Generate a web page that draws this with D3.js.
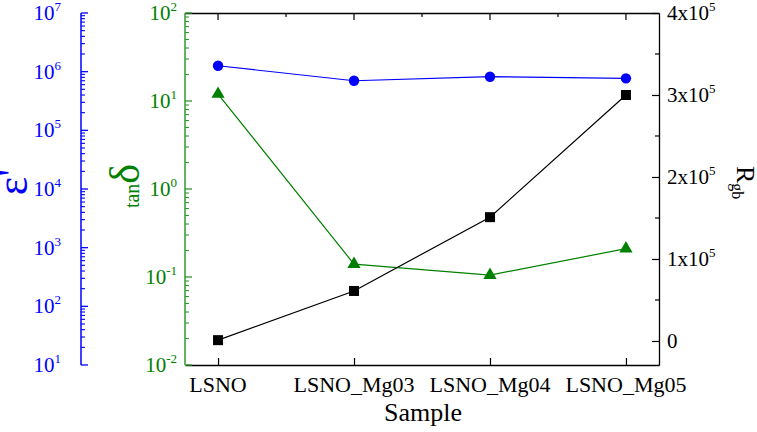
<!DOCTYPE html>
<html><head><meta charset="utf-8">
<script src="https://cdn.jsdelivr.net/npm/d3@7"></script>
<style>body{margin:0;background:#fff}svg{display:block}</style>
</head><body>
<svg id="c" width="757" height="432"></svg>
<script>
const categories = ["LSNO", "LSNO_Mg03", "LSNO_Mg04", "LSNO_Mg05"];
const epsilonValues = [1.26e6, 7.0e5, 8.2e5, 7.7e5];
const tanDeltaValues = [12, 0.14, 0.105, 0.21];
const rgbValues = [1000, 0.61e5, 1.51e5, 3.0e5];
const epsTicks = [1e1, 1e2, 1e3, 1e4, 1e5, 1e6, 1e7];
const epsTickExp = ["1", "2", "3", "4", "5", "6", "7"];
const tanTicks = [1e-2, 1e-1, 1e0, 1e1, 1e2];
const tanTickExp = ["-2", "-1", "0", "1", "2"];
const rTicks = [0, 1e5, 2e5, 3e5, 4e5];
const rTickLabels = [["0", ""], ["1x10", "5"], ["2x10", "5"], ["3x10", "5"], ["4x10", "5"]];

const SERIF = "'Liberation Serif'";
const BLUE = "#0000ff", GREEN = "#008000", GREENAX = "#2f9a2f", BLACK = "#000";
const L = 185, R = 659, T = 13, B = 365, BLUEX = 81;
const svg = d3.select("#c");

function txt(sel, size) { return sel.style("font-family", SERIF).style("font-size", size + "px"); }

const x = d3.scalePoint().domain(categories).range([L, R]).padding(0.243);
const yEps = d3.scaleLog().domain([1e1, 1e7]).range([B, T]);
const yTan = d3.scaleLog().domain([1e-2, 1e2]).range([B, T]);
const yR = d3.scaleLinear().domain([-0.293e5, 4e5]).range([B, T]);

function minorLog(dom) {
  const out = [];
  for (let e = Math.log10(dom[0]); e < Math.log10(dom[1]); e++)
    for (let m = 2; m <= 9; m++) out.push(m * Math.pow(10, e));
  return out;
}

// top frame
const gTop = svg.append("g").attr("transform", `translate(0,${T})`)
  .call(d3.axisBottom(x).tickSize(0).tickFormat(""));
gTop.select(".domain").attr("stroke", BLACK).attr("stroke-width", 1.3);
const mids = d3.range(categories.length - 1).map(i => (x(categories[i]) + x(categories[i + 1])) / 2);
svg.append("g").selectAll("line").data(categories).join("line")
  .attr("x1", d => x(d)).attr("x2", d => x(d)).attr("y1", T).attr("y2", T + 7)
  .attr("stroke", BLACK).attr("stroke-width", 1.2);
svg.append("g").selectAll("line").data(mids).join("line")
  .attr("x1", d => d).attr("x2", d => d).attr("y1", T).attr("y2", T + 4)
  .attr("stroke", BLACK).attr("stroke-width", 1.2);

// bottom axis
const gBot = svg.append("g").attr("transform", `translate(0,${B})`)
  .call(d3.axisBottom(x).tickSizeInner(-7).tickSizeOuter(0).tickFormat(""));
gBot.select(".domain").attr("stroke", BLACK).attr("stroke-width", 1.3);
gBot.selectAll(".tick line").attr("stroke", BLACK).attr("stroke-width", 1.2);
categories.forEach(c => {
  txt(svg.append("text"), 22).attr("x", x(c)).attr("y", 392).attr("text-anchor", "middle")
    .attr("fill", BLACK).text(c);
});

// right axis
const gR = svg.append("g").attr("transform", `translate(${R},0)`)
  .call(d3.axisLeft(yR).tickValues(rTicks).tickSize(7).tickSizeOuter(0).tickFormat(""));
gR.select(".domain").attr("stroke", BLACK).attr("stroke-width", 1.3);
gR.selectAll(".tick line").attr("stroke", BLACK).attr("stroke-width", 1.2);
svg.append("g").selectAll("line").data(d3.range(0.5e5, 4e5, 1e5)).join("line")
  .attr("x1", R).attr("x2", R - 4).attr("y1", d => yR(d)).attr("y2", d => yR(d))
  .attr("stroke", BLACK).attr("stroke-width", 1.2);
rTicks.forEach((v, i) => {
  const t = txt(svg.append("text"), 21).attr("x", R + 8).attr("y", yR(v) + 7).attr("fill", BLACK);
  t.append("tspan").text(rTickLabels[i][0]);
  if (rTickLabels[i][1]) t.append("tspan").attr("dy", -9).style("font-size", "13px").text(rTickLabels[i][1]);
});

function logAxis(scale, xpos, color, dir, majors, exps, labelEnd, labelColor) {
  const g = svg.append("g");
  g.append("line").attr("x1", xpos).attr("x2", xpos).attr("y1", T).attr("y2", B)
    .attr("stroke", color).attr("stroke-width", 1.5);
  g.selectAll("line.maj").data(majors).join("line").attr("class", "maj")
    .attr("x1", xpos).attr("x2", xpos + dir * 7).attr("y1", d => scale(d)).attr("y2", d => scale(d))
    .attr("stroke", color).attr("stroke-width", 1.3);
  g.selectAll("line.min").data(minorLog(scale.domain())).join("line").attr("class", "min")
    .attr("x1", xpos).attr("x2", xpos + dir * 4).attr("y1", d => scale(d)).attr("y2", d => scale(d))
    .attr("stroke", color).attr("stroke-width", 1.1);
  majors.forEach((v, i) => {
    const t = txt(g.append("text"), 21).attr("x", labelEnd).attr("y", scale(v) + 7)
      .attr("text-anchor", "end").attr("fill", labelColor);
    t.append("tspan").text("10");
    t.append("tspan").attr("dy", -9).style("font-size", "13px").text(exps[i]);
  });
}
logAxis(yTan, L, GREENAX, 1, tanTicks, tanTickExp, L - 8, GREEN);
logAxis(yEps, BLUEX, BLUE, 1, epsTicks, epsTickExp, BLUEX - 20, BLUE);

// axis titles
txt(svg.append("text"), 26).attr("x", 423).attr("y", 421).attr("text-anchor", "middle").text("Sample");
txt(svg.append("text"), 44).attr("transform", "translate(27,182) rotate(-90)").attr("text-anchor", "middle")
  .attr("fill", BLUE).text("ε'");
const td = svg.append("text").attr("transform", "translate(139,186) rotate(-90)").attr("text-anchor", "middle")
  .attr("fill", GREEN).style("font-family", SERIF);
td.append("tspan").style("font-size", "20px").text("tan");
td.append("tspan").style("font-size", "42px").text("δ");
const rg = svg.append("text").attr("transform", "translate(737,166) rotate(90)").attr("fill", BLACK).style("font-family", SERIF);
rg.append("tspan").style("font-size", "26px").text("R");
rg.append("tspan").style("font-size", "16px").attr("dy", 5).text("gb");

// series
const lineEps = d3.line().x((d, i) => x(categories[i])).y(d => yEps(d));
const lineTan = d3.line().x((d, i) => x(categories[i])).y(d => yTan(d));
const lineR = d3.line().x((d, i) => x(categories[i])).y(d => yR(d));

svg.append("path").attr("d", lineEps(epsilonValues)).attr("fill", "none").attr("stroke", BLUE).attr("stroke-width", 1.2);
svg.append("path").attr("d", lineTan(tanDeltaValues)).attr("fill", "none").attr("stroke", GREEN).attr("stroke-width", 1.2);
svg.append("path").attr("d", lineR(rgbValues)).attr("fill", "none").attr("stroke", BLACK).attr("stroke-width", 1.2);

svg.append("g").selectAll("circle").data(epsilonValues).join("circle")
  .attr("cx", (d, i) => x(categories[i])).attr("cy", d => yEps(d)).attr("r", 5.2).attr("fill", BLUE);
const tri = d3.symbol().type(d3.symbolTriangle).size(75);
svg.append("g").selectAll("path").data(tanDeltaValues).join("path")
  .attr("transform", (d, i) => `translate(${x(categories[i])},${yTan(d)})`).attr("d", tri()).attr("fill", GREEN);
svg.append("g").selectAll("rect").data(rgbValues).join("rect")
  .attr("x", (d, i) => x(categories[i]) - 5).attr("y", d => yR(d) - 5).attr("width", 10).attr("height", 10)
  .attr("fill", BLACK);
</script>
</body></html>
